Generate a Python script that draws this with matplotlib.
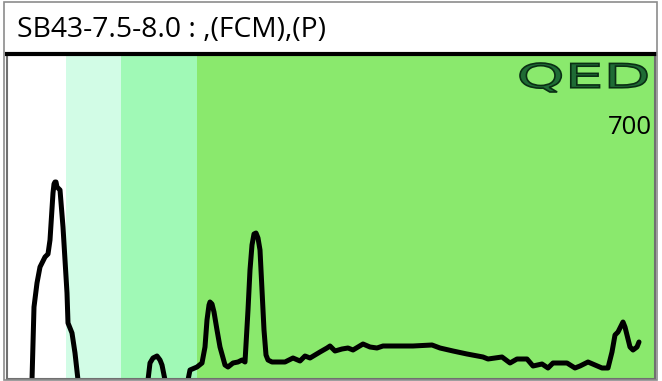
import numpy as np
import matplotlib.pyplot as plt
from matplotlib.patches import Rectangle, PathPatch
from matplotlib.textpath import TextPath
from matplotlib.font_manager import FontProperties
from matplotlib.transforms import Affine2D

title = "SB43-7.5-8.0 : ,(FCM),(P)"
scaleLabel = "700"

# Trace (x = channel position, y = height above the bottom)
xs = [25, 27, 30, 33, 38, 41, 43, 46, 47, 48, 49, 50, 53, 56, 60, 61, 65, 68, 71,
      105,
      141, 143, 146, 150, 153, 155, 158,
      170,
      181, 183, 190, 195, 198, 200, 202, 203, 205, 207, 210, 213, 218, 221, 226, 231, 235, 238,
      241, 243, 245, 247, 249, 251, 253, 255, 257, 259, 261, 265, 273,
      278, 286, 293, 298, 303, 313, 320, 323, 328, 335, 341, 346, 356, 363, 370, 376, 385, 406, 425, 433,
      446, 460, 476, 481, 495, 503, 510, 520, 526, 535, 541, 546, 560, 568, 573, 581, 588, 595, 601,
      605, 608, 611, 614, 616, 618, 620, 623, 626, 630, 632]
ys = [-1, 72, 96, 112, 122, 125, 139, 186, 195, 197, 197, 192, 189, 152, 86, 56, 46, 26, -1,
      -30,
      -1, 16, 21, 23, 19, 14, -1,
      -30,
      -1, 9, 12, 16, 32, 59, 74, 77, 75, 67, 49, 32, 14, 12, 16, 17, 19, 17,
      69, 109, 134, 145, 146, 141, 129, 89, 49, 24, 19, 17, 17,
      17, 21, 18, 23, 21, 27, 31, 33, 28, 30, 31, 29, 35, 32, 31, 33, 33, 33, 34, 31,
      28, 25, 22, 20, 22, 16, 20, 20, 13, 15, 11, 16, 16, 11, 13, 17, 14, 11, 11,
      27, 44, 47, 53, 57, 52, 44, 32, 29, 32, 37]

# Background gate bands (start, end, colour)
bandEdges = [0, 59, 114, 190, 648]
bandColors = ["#ffffff", "#d2fce6", "#a0f9b6", "#8ae96d"]

W, H = 662, 381
fig = plt.figure(figsize=(W / 100, H / 100), dpi=100)

# outer box round the title and plot
fig.add_artist(Rectangle((4 / W, 1 / H), 653 / W, 378 / H, transform=fig.transFigure,
                         fill=False, edgecolor="#8c8c8c", linewidth=1.2))
fig.text(17 / W, 1 - 30 / H, title, fontsize=20.3, family="Open Sans", va="center", ha="left")

ax = fig.add_axes([7 / W, 2 / H, 648 / W, 325 / H])
for i in range(len(bandColors)):
    ax.axvspan(bandEdges[i], bandEdges[i + 1], color=bandColors[i], linewidth=0)

ax.plot(xs, ys, color="black", linewidth=3.6, solid_joinstyle="round", solid_capstyle="round")

ax.set_xlim(0, 648)
ax.set_ylim(0, 325)
ax.set_xticks([])
ax.set_yticks([])
for side in ["left", "right", "bottom"]:
    ax.spines[side].set_color("#707070")
    ax.spines[side].set_linewidth(1.5)
ax.spines["top"].set_color("black")
ax.spines["top"].set_linewidth(3)

# QED logo, stretched wide like the original
tp = TextPath((0, 0), "QED", size=1, prop=FontProperties(family="DejaVu Sans"))
ext = tp.get_extents()
sx = 127 / ext.width
sy = 29 / ext.height
tr = Affine2D().translate(-ext.x0, -ext.y0).scale(sx, sy).translate(520, H - 92)
logo = PathPatch(tr.transform_path(tp), transform=None, facecolor="#1f6b35",
                 edgecolor="#0a2e14", linewidth=1.2)
fig.add_artist(logo)

fig.text(652 / W, 1 - 128 / H, scaleLabel, ha="right", va="center",
         fontsize=18.5, family="Open Sans")

fig.savefig("out.png", dpi=100)
